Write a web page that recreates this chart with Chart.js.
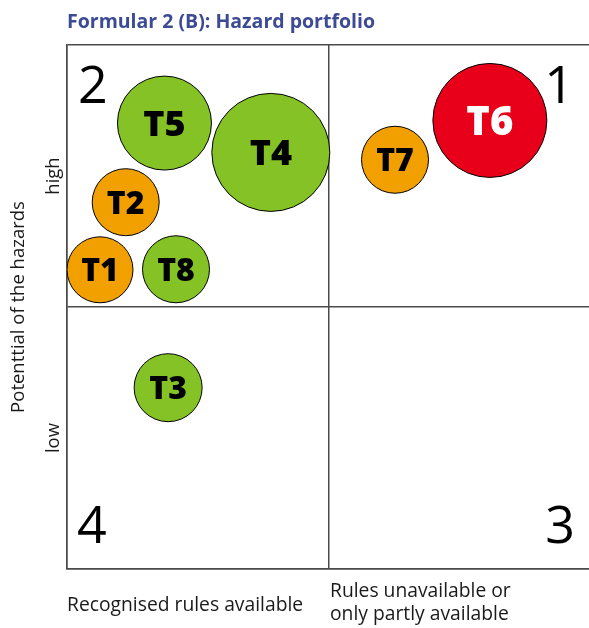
<!DOCTYPE html>
<html>
<head>
<meta charset="utf-8">
<script src="https://cdn.jsdelivr.net/npm/chart.js@4.4.1/dist/chart.umd.min.js"></script>
<style>
  html, body { margin: 0; padding: 0; background: #fff; overflow: hidden; }
  #wrap { width: 592px; height: 628px; position: relative; }
</style>
</head>
<body>
<div id="wrap"><canvas id="myChart" width="592" height="628"></canvas></div>
<script>
// hazards, position in the portfolio and bubble size
var hazards = ["T1", "T2", "T3", "T4", "T5", "T6", "T7", "T8"];
var rulesValues = [0.63, 1.12, 1.93, 3.89, 1.86, 8.07, 6.26, 2.08];
var potentialValues = [5.71, 7.00, 3.46, 7.95, 8.51, 8.56, 7.81, 5.72];
var sizeValues = [33, 33.5, 34, 59, 47, 57, 33.5, 33.5];
var ratings = ["orange", "orange", "green", "green", "green", "red", "orange", "green"];

var quadrants = ["1", "2", "3", "4"];
var yTickLabels = ["low", "high"];
var xTickLabels = ["Recognised rules available", ["Rules unavailable or", "only partly available"]];
var titleText = "Formular 2 (B): Hazard portfolio";
var yTitle = "Potenttial of the hazards";

var fills = { green: "#85c226", orange: "#f1a000", red: "#e8001b" };
var labelSizes = [32, 32, 32, 36, 36, 40, 32, 32];
var lineColor = "#4a4a4a";

var points = hazards.map(function (h, i) {
  return { x: rulesValues[i], y: potentialValues[i], r: sizeValues[i] };
});

var textPlugin = {
  id: "portfolioText",
  afterDatasetsDraw: function (chart) {
    var ctx = chart.ctx;
    var xs = chart.scales.x, ys = chart.scales.y;
    var a = chart.chartArea;
    ctx.save();

    // bubble labels
    ctx.textAlign = "center";
    ctx.textBaseline = "alphabetic";
    hazards.forEach(function (h, i) {
      var px = xs.getPixelForValue(rulesValues[i]);
      var py = ys.getPixelForValue(potentialValues[i]);
      var fs = labelSizes[i];
      ctx.font = "800 " + fs + "px 'Open Sans'";
      ctx.fillStyle = ratings[i] == "red" ? "#fff" : "#000";
      ctx.fillText(h, px, py + fs * 0.36);
    });

    // quadrant numbers
    ctx.fillStyle = "#000";
    ctx.font = "52px 'Open Sans'";
    ctx.textAlign = "right";
    ctx.fillText(quadrants[0], a.right - 17, a.top + 58);
    ctx.fillText(quadrants[2], a.right - 16, a.bottom - 26);
    ctx.textAlign = "left";
    ctx.fillText(quadrants[1], a.left + 11, a.top + 58);
    ctx.fillText(quadrants[3], a.left + 10, a.bottom - 26);

    // title
    ctx.font = "bold 19.5px 'Open Sans'";
    ctx.fillStyle = "#3c4b94";
    ctx.fillText(titleText, a.left, 28);

    // x tick labels
    ctx.font = "19.3px 'Open Sans'";
    ctx.fillStyle = "#1a1a1a";
    ctx.fillText(xTickLabels[0], xs.getPixelForValue(0), 611);
    ctx.fillText(xTickLabels[1][0], xs.getPixelForValue(5) + 1, 597);
    ctx.fillText(xTickLabels[1][1], xs.getPixelForValue(5) + 1, 620);

    // y tick labels and title
    ctx.font = "18.5px 'Open Sans'";
    ctx.textAlign = "center";
    [2.5, 7.5].forEach(function (v, i) {
      ctx.save();
      ctx.translate(59, ys.getPixelForValue(v));
      ctx.rotate(-Math.PI / 2);
      ctx.fillText(yTickLabels[i], 0, 0);
      ctx.restore();
    });
    ctx.save();
    ctx.translate(24, ys.getPixelForValue(5));
    ctx.rotate(-Math.PI / 2);
    ctx.fillText(yTitle, 0, 0);
    ctx.restore();

    ctx.restore();
  }
};

new Chart("myChart", {
  type: "bubble",
  data: {
    labels: hazards,
    datasets: [{
      data: points,
      backgroundColor: ratings.map(function (c) { return fills[c]; }),
      borderColor: "#000",
      borderWidth: 1,
      hoverRadius: 0
    }]
  },
  options: {
    responsive: false,
    animation: false,
    events: [],
    layout: { autoPadding: false, padding: { left: 67, top: 45, right: 1, bottom: 59 } },
    plugins: { legend: { display: false }, title: { display: false }, tooltip: { enabled: false } },
    scales: {
      x: {
        min: 0, max: 10,
        ticks: { display: false, stepSize: 5 },
        grid: { color: lineColor, lineWidth: 1.5, drawTicks: false },
        border: { color: lineColor, width: 1.5 }
      },
      y: {
        min: 0, max: 10,
        ticks: { display: false, stepSize: 5 },
        grid: { color: lineColor, lineWidth: 1.5, drawTicks: false },
        border: { color: lineColor, width: 1.5 }
      }
    }
  },
  plugins: [textPlugin]
});
</script>
</body>
</html>
